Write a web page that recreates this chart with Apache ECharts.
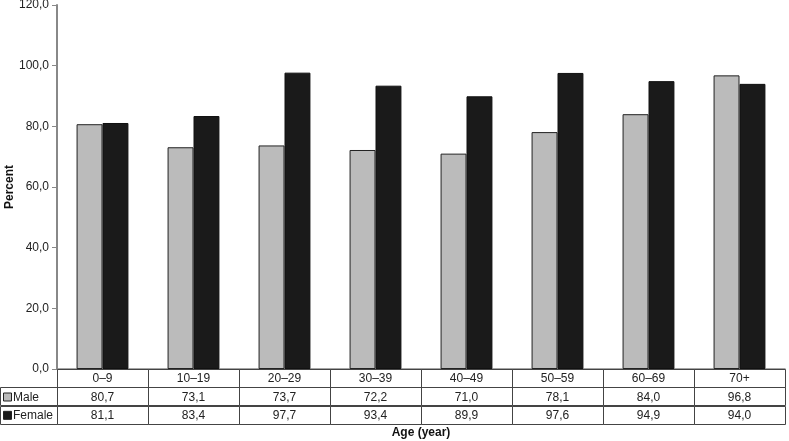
<!DOCTYPE html>
<html><head><meta charset="utf-8">
<script src="https://cdn.jsdelivr.net/npm/echarts@6/dist/echarts.min.js"></script>
<style>html,body{margin:0;padding:0;background:#fff}#c{width:789px;height:441px}</style>
</head><body><div id="c"></div>
<script>
const categories = ['0–9','10–19','20–29','30–39','40–49','50–59','60–69','70+'];
const maleValues = [80.7, 73.1, 73.7, 72.2, 71.0, 78.1, 84.0, 96.8];
const femaleValues = [81.1, 83.4, 97.7, 93.4, 89.9, 97.6, 94.9, 94.0];
const yTicks = [0, 20, 40, 60, 80, 100, 120];
const rowNames = ['', 'Male', 'Female'];

const FONT = '"Liberation Sans", Arial, sans-serif';
const fmt = v => v.toFixed(1).replace('.', ',');

// table cells: [catIndex, rowIndex, text]
const tableData = [];
categories.forEach((c, i) => {
  tableData.push([i, 0, c]);
  tableData.push([i, 1, fmt(maleValues[i])]);
  tableData.push([i, 2, fmt(femaleValues[i])]);
});

const chart = echarts.init(document.getElementById('c'), null, {renderer: 'canvas'});
chart.setOption({
  animation: false,
  textStyle: {fontFamily: FONT},
  grid: [
    {left: 57, right: 4, top: 5, bottom: 72, outerBoundsMode: 'none', containLabel: false},
    {left: 57, right: 4, top: 369, height: 55, outerBoundsMode: 'none', containLabel: false}
  ],
  xAxis: [
    {type: 'category', gridIndex: 0, data: categories,
     axisLine: {lineStyle: {color: '#888', width: 1.5}},
     axisTick: {show: false}, axisLabel: {show: false}},
    {type: 'category', gridIndex: 1, data: categories,
     axisLine: {show: false}, axisTick: {show: false}, axisLabel: {show: false},
     name: 'Age (year)', nameLocation: 'middle', nameGap: 3, nameMoveOverlap: false,
     nameTextStyle: {fontWeight: 'bold', fontSize: 12, color: '#111', fontFamily: FONT, verticalAlign: 'top'}}
  ],
  yAxis: [
    {type: 'value', gridIndex: 0, min: yTicks[0], max: yTicks[yTicks.length-1], interval: 20,
     axisLine: {show: true, lineStyle: {color: '#888', width: 2}},
     axisTick: {show: true, length: 5, lineStyle: {color: '#888'}},
     splitLine: {show: false},
     axisLabel: {formatter: fmt, color: '#222', fontSize: 12, margin: 8, fontFamily: FONT},
     name: 'Percent', nameLocation: 'middle', nameGap: 41, nameRotate: 90, nameMoveOverlap: false,
     nameTextStyle: {fontWeight: 'bold', fontSize: 12, color: '#111', fontFamily: FONT}},
    {type: 'category', gridIndex: 1, data: rowNames, inverse: true,
     axisLine: {show: false}, axisTick: {show: false}, axisLabel: {show: false}, splitLine: {show: false}}
  ],
  series: [
    {name: 'Male', type: 'bar', xAxisIndex: 0, yAxisIndex: 0, data: maleValues,
     barGap: '0%', barCategoryGap: '43%',
     itemStyle: {color: '#bbbbbb', borderColor: '#222', borderWidth: 1}},
    {name: 'Female', type: 'bar', xAxisIndex: 0, yAxisIndex: 0, data: femaleValues,
     barGap: '0%', barCategoryGap: '43%',
     itemStyle: {color: '#1a1a1a', borderColor: '#111', borderWidth: 1}},
    {type: 'custom', xAxisIndex: 1, yAxisIndex: 1, data: tableData,
     renderItem: function (params, api) {
       const ci = api.value(0), ri = api.value(1);
       const p = api.coord([ci, ri]);
       const s = api.size([1, 1]);
       const x0 = p[0] - s[0] / 2, y0 = p[1] - s[1] / 2;
       const children = [
         {type: 'rect', shape: {x: Math.round(x0) + 0.5, y: Math.round(y0) + 0.5, width: Math.round(s[0]), height: Math.round(s[1])},
          style: {fill: 'none', stroke: '#444', lineWidth: 1}},
         {type: 'text', style: {x: p[0], y: p[1] + 1, text: tableData[params.dataIndex][2],
          fill: '#222', font: '12px ' + FONT, align: 'center', verticalAlign: 'middle'}}
       ];
       if (ci === 0 && ri > 0) {
         const lx = 0;
         const w = Math.round(x0) - lx;
         children.push({type: 'rect', shape: {x: lx + 0.5, y: Math.round(y0) + 0.5, width: w, height: Math.round(s[1])},
           style: {fill: 'none', stroke: '#444', lineWidth: 1}});
         children.push({type: 'rect', shape: {x: 3.5, y: p[1] - 3.5, width: 8, height: 8},
           style: {fill: ri === 1 ? '#bbbbbb' : '#1a1a1a', stroke: '#222', lineWidth: 1}});
         children.push({type: 'text', style: {x: 13, y: p[1] + 1, text: rowNames[ri],
           fill: '#222', font: '12px ' + FONT, align: 'left', verticalAlign: 'middle'}});
       }
       return {type: 'group', children: children};
     }}
  ]
});
</script></body></html>
